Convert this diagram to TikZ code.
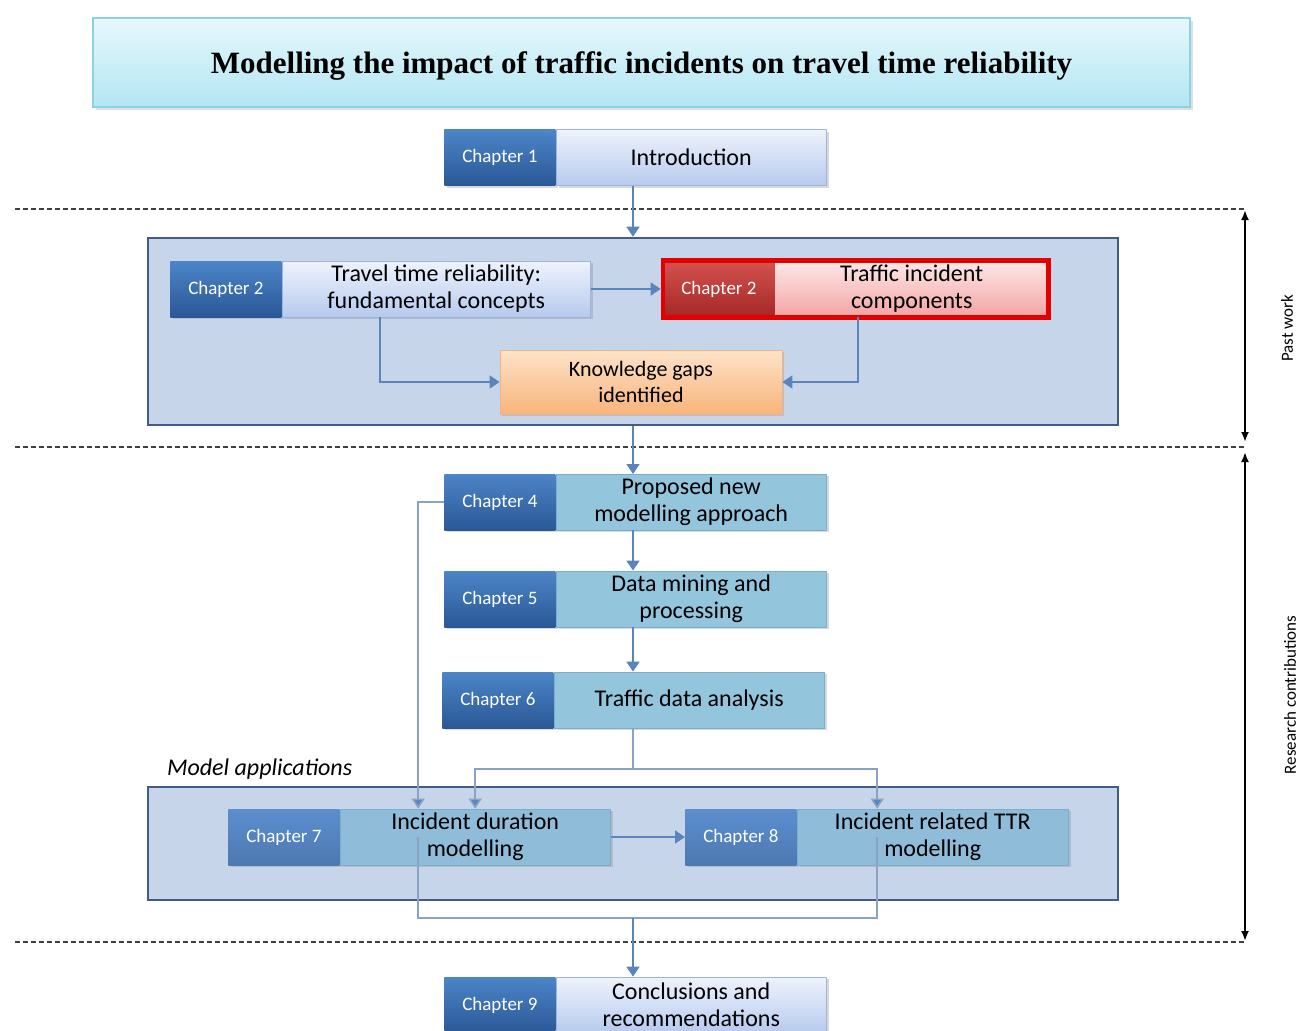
\documentclass[tikz,border=0pt]{standalone}
\usepackage{fontspec}
\setmainfont{Carlito}
\newfontfamily\titlefont{Liberation Serif}
\usetikzlibrary{arrows.meta,fit,shadows}

\definecolor{titletop}{HTML}{E6F8FC}
\definecolor{titlebot}{HTML}{B3E6F3}
\definecolor{titleline}{HTML}{8CD2E2}
\definecolor{tagtop}{HTML}{4C85C8}
\definecolor{tagbot}{HTML}{2A5896}
\definecolor{paletop}{HTML}{EEF3FC}
\definecolor{palebot}{HTML}{B6CAEE}
\definecolor{paleline}{HTML}{9DB4DC}
\definecolor{tealfill}{HTML}{93C5DD}
\definecolor{tealline}{HTML}{7AAECB}
\definecolor{apptag}{HTML}{5B8ED0}
\definecolor{appfill}{HTML}{8EBCD9}
\definecolor{redtop}{HTML}{D4524F}
\definecolor{redbot}{HTML}{A42826}
\definecolor{pinktop}{HTML}{FDE8E8}
\definecolor{pinkbot}{HTML}{F3A3A3}
\definecolor{gaptop}{HTML}{FDE3C9}
\definecolor{gapbot}{HTML}{F8B47A}
\definecolor{gapline}{HTML}{F2B282}
\definecolor{panelfill}{HTML}{C7D5EA}
\definecolor{panelline}{HTML}{425C87}
\definecolor{linkblue}{HTML}{5A84BC}
\definecolor{linkgrey}{HTML}{8AA2C4}

\tikzset{
  chaptag/.style={anchor=west, minimum width=55.5pt, minimum height=28pt, inner sep=0pt,
    text=white, font=\fontsize{9.5}{11}\selectfont, top color=tagtop, bottom color=tagbot,
    drop shadow={opacity=0.3, shadow xshift=1.2pt, shadow yshift=-1.2pt}},
  chaptext/.style={anchor=west, minimum height=28pt, inner sep=1pt, align=center,
    font=\fontsize{12}{13.5}\selectfont,
    drop shadow={opacity=0.3, shadow xshift=1.2pt, shadow yshift=-1.2pt}},
  pale/.style={top color=paletop, bottom color=palebot, draw=paleline},
  teal/.style={fill=tealfill, draw=tealline},
  panel/.style={draw=panelline, fill=panelfill, line width=1.3pt, inner sep=0pt},
  arr/.style={draw=linkblue, line width=0.8pt, -{Triangle[width=6.5pt,length=5pt]}},
  link/.style={draw=linkgrey, line width=0.8pt},
  branch/.style={draw=linkgrey, line width=0.8pt, -{Triangle[width=6.5pt,length=5pt,fill=linkblue]}},
  span/.style={line width=1.2pt, {Latex[length=5pt,width=4pt]}-{Latex[length=5pt,width=4pt]}},
  divider/.style={draw=black!75, dashed, dash pattern=on 2.5pt off 1.5pt, line width=0.6pt},
  side/.style={rotate=90, font=\fontsize{8.5}{10}\selectfont}
}

\begin{document}
\begin{tikzpicture}[x=0.5pt,y=-0.5pt]
  \useasboundingbox (0,0) rectangle (1308,1030);

  \node (title) [top color=titletop, bottom color=titlebot, draw=titleline, line width=0.8pt,
    minimum width=548.5pt, minimum height=44.5pt,
    drop shadow={opacity=0.25, shadow xshift=1.5pt, shadow yshift=-1.5pt}] at (641.5,62.5) {};
  \node (titletext) [font=\titlefont\bfseries\fontsize{15.5}{18}\selectfont] at (641.5,66)
    {Modelling the impact of traffic incidents on travel time reliability};

  \node (c1tag)  [chaptag] at (444,157.5) {Chapter 1};
  \node (c1text) [chaptext,pale,minimum width=135pt] at (c1tag.east) {Introduction};

  \coordinate (spine) at (633,0);
  \coordinate (d1a) at (15,209);  \coordinate (d1b) at (1245,209);
  \coordinate (d2a) at (15,447);  \coordinate (d2b) at (1245,447);
  \coordinate (d3a) at (15,942);  \coordinate (d3b) at (1245,942);
  \draw[divider] (d1a) -- (d1b);
  \draw[divider] (d2a) -- (d2b);
  \draw[divider] (d3a) -- (d3b);

  \node (pastpanel) [panel, minimum width=485pt, minimum height=93.5pt] at (633,331.5) {};

  \node (c2tag)  [chaptag] at (170,289) {Chapter 2};
  \node (c2text) [chaptext,pale,minimum width=154pt] at (c2tag.east)
    {Travel time reliability:\\fundamental concepts};

  \node (c3tag)  [chaptag, top color=redtop, bottom color=redbot] at (663,289) {Chapter 2};
  \node (c3text) [chaptext, top color=pinktop, bottom color=pinkbot, minimum width=136.5pt]
    at (c3tag.east) {Traffic incident\\components};
  \node (c3frame) [fit=(c3tag)(c3text), draw=red!90!black, line width=2.3pt, inner sep=0pt] {};

  \node (gaps) [top color=gaptop, bottom color=gapbot, draw=gapline, minimum width=141pt,
    minimum height=32pt, align=center, font=\fontsize{11}{13}\selectfont,
    drop shadow={opacity=0.25, shadow xshift=1.2pt, shadow yshift=-1.2pt}] at (641,382)
    {Knowledge gaps\\identified};

  \draw[arr] (c2text.east) -- (c3frame.west);
  \draw[arr] ([xshift=-28pt]c2text.south) |- (gaps.west);
  \draw[arr] ([xshift=-27pt]c3text.south) |- (gaps.east);
  \draw[arr] (spine |- c1text.south) -- (pastpanel.north);
  \draw[arr] (pastpanel.south) -- (spine |- 0,474);

  \foreach \n/\x/\y/\txt in {4/444/502/{Proposed new\\modelling approach},
                             5/444/599/{Data mining and\\processing},
                             6/442/700/{Traffic data analysis}}{
    \node (c\n tag)  [chaptag] at (\x,\y) {Chapter \n};
    \node (c\n text) [chaptext,teal,minimum width=135pt] at (c\n tag.east) {\txt};
  }

  \foreach \from/\to in {c4text/c5text,c5text/c6text}
    \draw[arr] (spine |- \from.south) -- (spine |- \to.north);

  \node (applabel) [anchor=west, font=\itshape\fontsize{12}{14}\selectfont] at (160,769)
    {Model applications};
  \node (apppanel) [panel, minimum width=485pt, minimum height=56.5pt] at (633,843.5) {};

  \node (c7tag)  [chaptag, top color=apptag, bottom color=apptag!85!black] at (228,837) {Chapter 7};
  \node (c7text) [chaptext, fill=appfill, draw=tealline, minimum width=135pt] at (c7tag.east)
    {Incident duration\\modelling};
  \node (c8tag)  [chaptag, top color=apptag, bottom color=apptag!85!black] at (685,837) {Chapter 8};
  \node (c8text) [chaptext, fill=appfill, draw=tealline, minimum width=135.5pt] at (c8tag.east)
    {Incident related TTR\\modelling};

  \coordinate (split) at (633,769);
  \coordinate (merge) at (633,918);
  \draw[link] (spine |- c6text.south) -- (split);
  \draw[branch] (split) -| (c7text.north);
  \draw[branch] (split) -| ([xshift=-27.75pt]c8text.north);
  \draw[branch] (c4tag.west) -| ([xshift=-28.5pt]c7text.north);
  \draw[arr] (c7text.east) -- (c8tag.west);
  \draw[link] ([xshift=-28.5pt]c7text.center) |- (merge) -| ([xshift=-27.75pt]c8text.center);

  \node (c9tag)  [chaptag] at (444,1005) {Chapter 9};
  \node (c9text) [chaptext,pale,minimum width=135pt] at (c9tag.east)
    {Conclusions and\\recommendations};
  \draw[arr] (merge) -- (spine |- c9text.north);

  \coordinate (pwtop) at (1245,210);
  \coordinate (pwbot) at (1245,442);
  \coordinate (rctop) at (1245,452);
  \coordinate (rcbot) at (1245,941);
  \draw[span] (pwtop) -- (pwbot);
  \draw[span] (rctop) -- (rcbot);
  \node (pastwork) [side] at (1287,328) {Past work};
  \node (research) [side] at (1290,695) {Research contributions};
\end{tikzpicture}
\end{document}
